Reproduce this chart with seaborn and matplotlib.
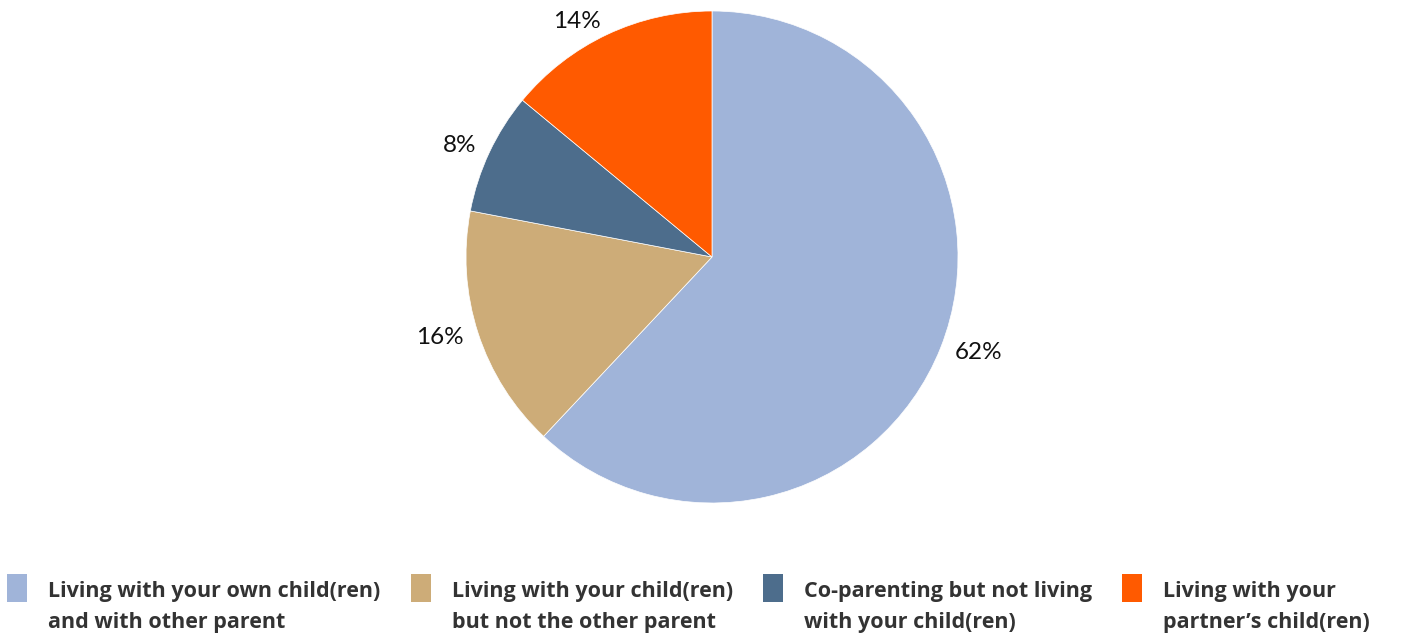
import matplotlib
matplotlib.use("Agg")
import matplotlib.pyplot as plt
import seaborn as sns
from matplotlib.patches import Patch, Rectangle
from matplotlib.legend_handler import HandlerPatch

categories = [
    "Living with your own child(ren)\nand with other parent",
    "Living with your child(ren)\nbut not the other parent",
    "Co-parenting but not living\nwith your child(ren)",
    "Living with your\npartner\u2019s child(ren)",
]
values = [62, 16, 8, 14]
colors = ["#A0B4D9", "#CDAC78", "#4D6D8C", "#FF5A00"]

sns.set_theme(style="white")
plt.rcParams["font.family"] = ["Lato", "DejaVu Sans"]

W, H = 1408, 633
fig = plt.figure(figsize=(W / 100, H / 100), dpi=100)
cx, cy, r = 712, 257, 246
ax = fig.add_axes([(cx - r) / W, (H - cy - r) / H, 2 * r / W, 2 * r / H])

wedges, texts = ax.pie(
    values,
    colors=colors,
    startangle=90,
    counterclock=False,
    labels=[f"{v}%" for v in values],
    labeldistance=1.06,
    wedgeprops=dict(linewidth=0.5, edgecolor="white"),
    textprops=dict(fontsize=17.5, color="#111111"),
)
ax.set_xlim(-1, 1)
ax.set_ylim(-1, 1)
ax.set_aspect("equal")
ax.axis("off")

LEG_FS = 15.5
PATCH_LIFT = 0.60  # bottom of the square above the handle baseline, in font sizes


def top_patch(legend, orig_handle, xdescent, ydescent, width, height, fontsize):
    # align the square with the first text line instead of the last
    return Rectangle((-xdescent, fontsize * PATCH_LIFT), width, height)


handles = [Patch(facecolor=c, edgecolor="none") for c in colors]
leg = fig.legend(
    handles,
    categories,
    ncol=4,
    loc="lower left",
    bbox_to_anchor=(7 / W, 0.0),
    frameon=False,
    prop=dict(family=["Open Sans", "DejaVu Sans"], weight="bold", size=LEG_FS),
    handlelength=0.93,
    handleheight=1.6,
    handletextpad=0.98,
    columnspacing=1.4,
    borderpad=0.0,
    borderaxespad=0.0,
    handler_map={Patch: HandlerPatch(patch_func=top_patch)},
)
for t in leg.get_texts():
    t.set_color("#333333")
    t.set_linespacing(1.63)

fig.savefig("out.png", dpi=100)
